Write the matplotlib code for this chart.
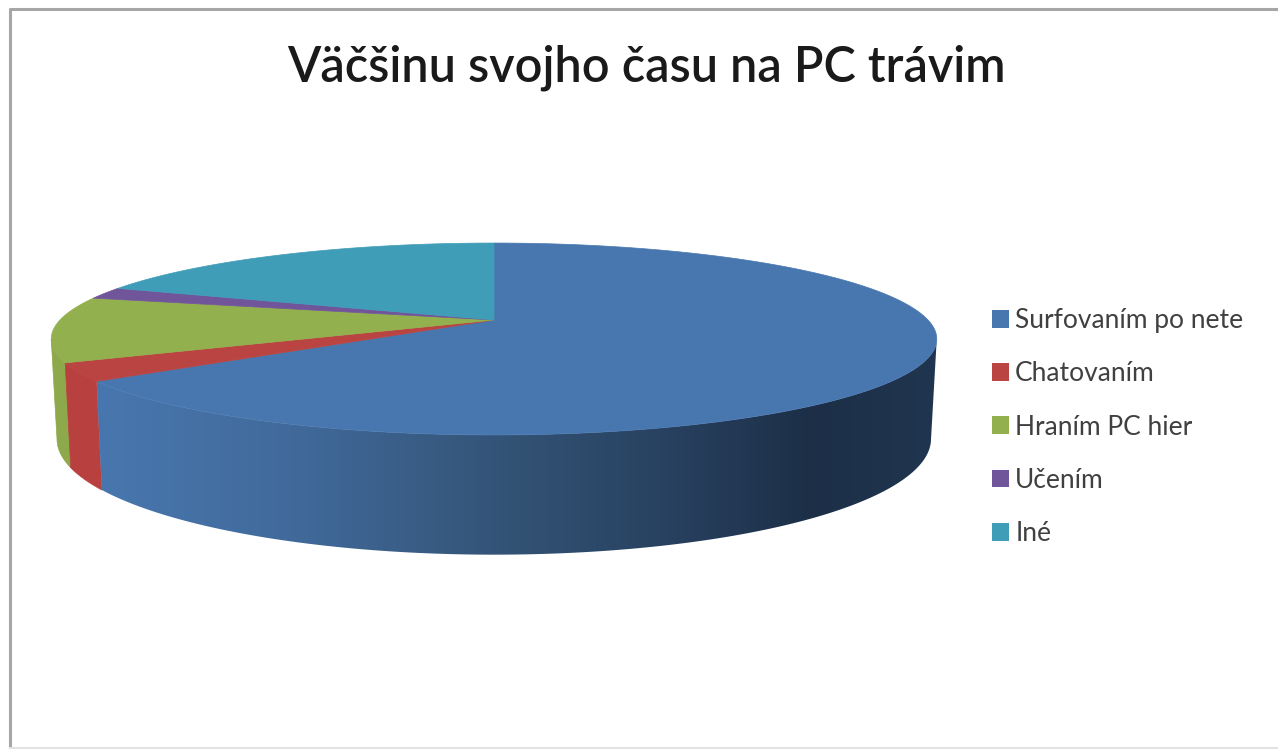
import numpy as np
import matplotlib
matplotlib.use('Agg')
from matplotlib import pyplot as plt
from matplotlib.colors import LinearSegmentedColormap
from matplotlib.patches import Polygon, Patch

title = 'Väčšinu svojho času na PC trávim'
categories = ['Surfovaním po nete', 'Chatovaním', 'Hraním PC hier', 'Učením', 'Iné']
shares = [65, 3, 11, 2, 19]
top_colors = ['#4877af', '#b94441', '#93b04f', '#71559a', '#3f9db8']
wall_colors = ['#4877af', '#b8403e', '#8ea94b', '#64488a', '#388ba3']

W, H = 1278, 749
cx, cy = 494, 320   # where the slices meet
rx, ry = 434, 92.2
persp = 0.198
depth = 96
# part of the rim that has a visible wall below it
vis_a = np.arccos(-persp)
vis_b = 2*np.pi - vis_a

def rim(theta):
   # point of the top disc, theta clockwise from the back of the pie
   x, y = np.sin(theta), -np.cos(theta)
   w = 1 - persp*y
   return cx + rx*x/w, cy + ry*y/w, w

def slice_angles(a, b):
   n = max(int((b - a)*80), 4)
   return np.linspace(a, b, n)

def wall_poly(a, b):
   t = slice_angles(max(a, vis_a), min(b, vis_b))
   x, y, w = rim(t)
   xb = cx + (x - cx)*0.987
   yb = y + depth/w
   return np.r_[np.column_stack([x, y]), np.column_stack([xb, yb])[::-1]]

def top_poly(a, b):
   t = slice_angles(a, b)
   x, y, w = rim(t)
   return np.r_[[[cx, cy]], np.column_stack([x, y])]

fig = plt.figure(figsize=(W/100, H/100), dpi=100)
ax = fig.add_axes([0, 0, 1, 1])
ax.set_xlim(0, W)
ax.set_ylim(H, 0)
ax.axis('off')

# chart frame, the right side is cut off
ax.plot([W, 10, 10], [9, 9, H], color='#a6a6a6', lw=2.2)
ax.plot([10, W], [748, 748], color='#e2e2e2', lw=1.5)

edges = np.r_[0, np.cumsum(shares)]/sum(shares)*2*np.pi

# walls, only the slices that reach the front, the big one gets a gradient
for i in [2, 1]:
   ax.add_patch(Polygon(wall_poly(edges[i], edges[i + 1]), fc=wall_colors[i], ec=wall_colors[i],
                        lw=0.5, zorder=2))
grad = LinearSegmentedColormap.from_list('side', [
   (0.0, '#4877af'), (0.23, '#416a9b'), (0.47, '#345578'),
   (0.71, '#263e5c'), (0.85, '#1c2f47'), (1.0, '#20354f')])
clip = Polygon(wall_poly(edges[0], edges[1]), fc='none', ec='none', zorder=3)
ax.add_patch(clip)
im = ax.imshow(np.linspace(0, 1, 512)[None, :], cmap=grad, aspect='auto',
               extent=(97, 937, 560, 300), zorder=3)
im.set_clip_path(clip)
ax.set_xlim(0, W)
ax.set_ylim(H, 0)

for i in range(len(shares)):
   ax.add_patch(Polygon(top_poly(edges[i], edges[i + 1]), fc=top_colors[i], ec=top_colors[i],
                        lw=0.5, zorder=4))

ax.text(646, 68, title, ha='center', va='center', fontsize=35, family='Lato',
        color='#1a1a1a', fontweight='semibold')

handles = [Patch(fc=c, ec='none') for c in top_colors]
leg = ax.legend(handles, categories, loc='center left', bbox_to_anchor=(992, 427),
                bbox_transform=ax.transData, frameon=False, prop={'family': 'Lato', 'size': 19},
                labelcolor='#404040', handlelength=0.65, handleheight=0.65,
                handletextpad=0.23, labelspacing=1.07, borderpad=0, borderaxespad=0)

fig.savefig('out.png', dpi=100)
